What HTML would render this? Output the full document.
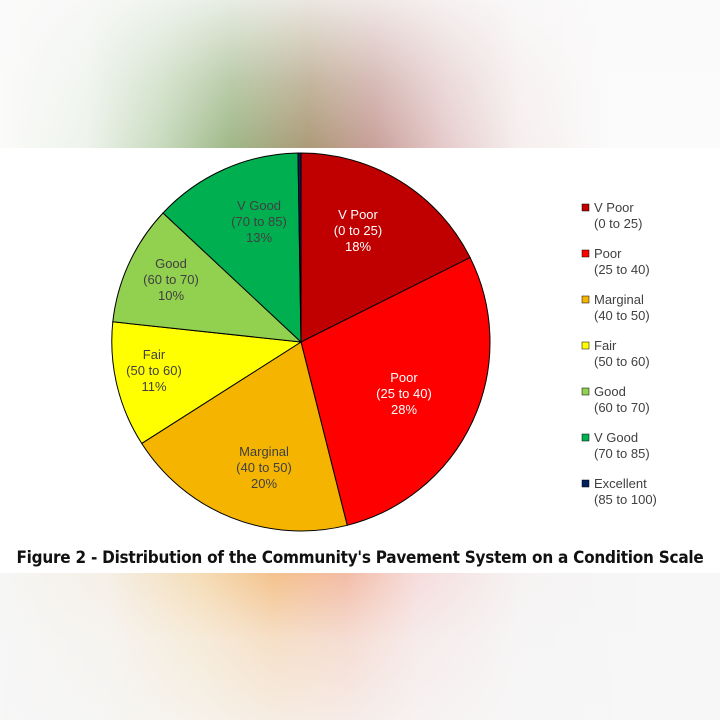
<!DOCTYPE html>
<html><head><meta charset="utf-8"><style>
html,body{margin:0;padding:0;width:720px;height:720px;overflow:hidden;background:#fafafa}
.top{position:absolute;left:0;top:0;width:720px;height:148px;background:linear-gradient(90deg,#fbfbfa 0%,#eef3ec 12%,#c9dcc0 22%,#9fb888 32%,#ad9a78 43%,#c9a09a 52%,#e6cccc 62%,#f6eeee 72%,#fbfbfb 85%)}
.topfade{position:absolute;left:0;top:0;width:720px;height:148px;background:linear-gradient(180deg,rgba(250,250,250,0.8) 0%,rgba(250,250,250,0.3) 55%,rgba(250,250,250,0) 100%)}
.bot{position:absolute;left:0;top:573px;width:720px;height:147px;background:linear-gradient(90deg,#f6f6f5 0%,#f5efe6 15%,#f5dcb5 28%,#f4c28c 38%,#f3bca6 48%,#f6dcdc 58%,#f6f2f2 72%,#f7f7f7 90%)}
.botfade{position:absolute;left:0;top:573px;width:720px;height:147px;background:linear-gradient(180deg,rgba(247,247,247,0) 0%,rgba(247,247,247,0.55) 45%,rgba(247,247,247,0.8) 100%)}
.mid{position:absolute;left:0;top:148px;width:720px;height:425px;background:#fff}
.cap{position:absolute;left:0;top:548px;width:720px;text-align:center;font:bold 17px "DejaVu Sans Condensed","Liberation Sans Narrow","Liberation Sans",sans-serif;color:#111;letter-spacing:-0.25px}
svg text{font-family:"Liberation Sans",sans-serif;font-size:13px}
</style></head><body>
<div class="top"></div><div class="topfade"></div>
<div class="bot"></div><div class="botfade"></div>
<div class="mid"></div>
<svg style="position:absolute;left:0;top:0" width="720" height="720">
<g stroke="#000" stroke-width="1">
<path d="M301,342 L301.0,153.0 A189,189 0 0,1 470.1,257.6 Z" fill="#c00000"/>
<path d="M301,342 L470.1,257.6 A189,189 0 0,1 347.2,525.3 Z" fill="#ff0000"/>
<path d="M301,342 L347.2,525.3 A189,189 0 0,1 141.7,443.4 Z" fill="#f5b400"/>
<path d="M301,342 L141.7,443.4 A189,189 0 0,1 112.8,321.8 Z" fill="#ffff00"/>
<path d="M301,342 L112.8,321.8 A189,189 0 0,1 163.0,213.0 Z" fill="#92d050"/>
<path d="M301,342 L163.0,213.0 A189,189 0 0,1 298.0,153.0 Z" fill="#00b050"/>
<path d="M301,342 L298.0,153.0 A189,189 0 0,1 301.0,153.0 Z" fill="#002060"/>
</g>
<g text-anchor="middle" fill="#fff">
<text x="358" y="219">V Poor</text><text x="358" y="235">(0 to 25)</text><text x="358" y="251">18%</text>
<text x="404" y="382">Poor</text><text x="404" y="398">(25 to 40)</text><text x="404" y="414">28%</text>
</g>
<g text-anchor="middle" fill="#404040">
<text x="264" y="456">Marginal</text><text x="264" y="472">(40 to 50)</text><text x="264" y="488">20%</text>
<text x="154" y="359">Fair</text><text x="154" y="375">(50 to 60)</text><text x="154" y="391">11%</text>
<text x="171" y="268">Good</text><text x="171" y="284">(60 to 70)</text><text x="171" y="300">10%</text>
<text x="259" y="210">V Good</text><text x="259" y="226">(70 to 85)</text><text x="259" y="242">13%</text>
</g>
<g font-size="13" fill="#404040">
<rect x="582" y="204" width="7" height="7" fill="#c00000" stroke="#000" stroke-width="0.5"/><text x="594" y="212">V Poor</text><text x="594" y="228">(0 to 25)</text>
<rect x="582" y="250" width="7" height="7" fill="#ff0000" stroke="#000" stroke-width="0.5"/><text x="594" y="258">Poor</text><text x="594" y="274">(25 to 40)</text>
<rect x="582" y="296" width="7" height="7" fill="#f5b400" stroke="#000" stroke-width="0.5"/><text x="594" y="304">Marginal</text><text x="594" y="320">(40 to 50)</text>
<rect x="582" y="342" width="7" height="7" fill="#ffff00" stroke="#000" stroke-width="0.5"/><text x="594" y="350">Fair</text><text x="594" y="366">(50 to 60)</text>
<rect x="582" y="388" width="7" height="7" fill="#92d050" stroke="#000" stroke-width="0.5"/><text x="594" y="396">Good</text><text x="594" y="412">(60 to 70)</text>
<rect x="582" y="434" width="7" height="7" fill="#00b050" stroke="#000" stroke-width="0.5"/><text x="594" y="442">V Good</text><text x="594" y="458">(70 to 85)</text>
<rect x="582" y="480" width="7" height="7" fill="#002060" stroke="#000" stroke-width="0.5"/><text x="594" y="488">Excellent</text><text x="594" y="504">(85 to 100)</text>
</g>
</svg>
<div class="cap">Figure 2 - Distribution of the Community's Pavement System on a Condition Scale</div>
</body></html>
